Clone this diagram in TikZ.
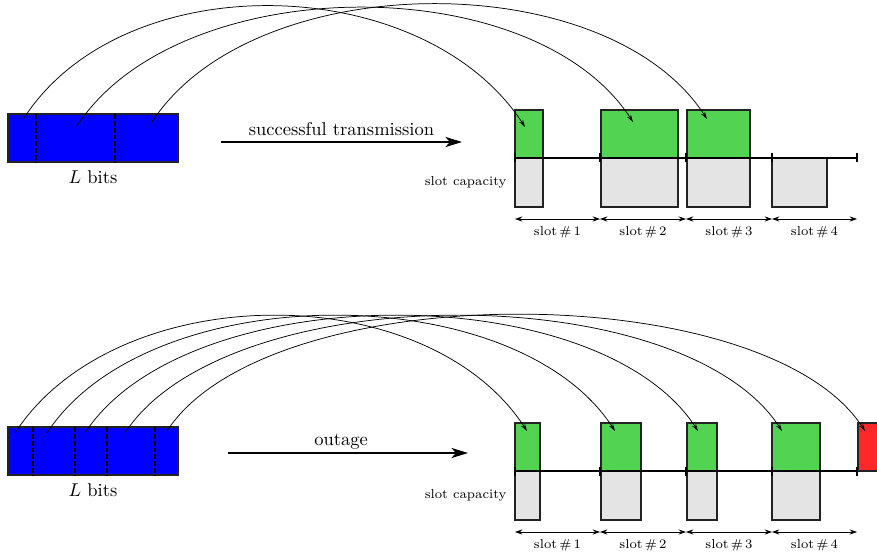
\documentclass[tikz,border=0pt]{standalone}
\usetikzlibrary{arrows.meta,fit}
\definecolor{slotgreen}{RGB}{82,212,82}
\definecolor{slotgray}{RGB}{228,228,228}
\definecolor{lostred}{RGB}{255,40,40}
\definecolor{edge}{RGB}{35,35,35}
\begin{document}
\begin{tikzpicture}[x=0.54pt,y=-0.54pt,
  cell/.style={draw=edge,line width=0.65pt,inner sep=0pt},
  bitbar/.style={cell,fill=blue},
  okcell/.style={cell,fill=slotgreen},
  capcell/.style={cell,fill=slotgray},
  lostcell/.style={cell,fill=lostred},
  divider/.style={line width=0.6pt,dash pattern=on 2.6pt off 1.1pt},
  axisline/.style={line width=0.65pt},
  tickmark/.style={line width=0.9pt},
  hop/.style={-{Stealth[length=4pt,width=2.4pt]},line width=0.4pt},
  bigarrow/.style={-{Stealth[length=9pt,width=5.5pt,inset=2.5pt]},line width=0.6pt},
  span/.style={{Stealth[length=4pt,width=2.8pt]}-{Stealth[length=4pt,width=2.8pt]},line width=0.45pt},
  small/.style={font=\scriptsize},
]
\useasboundingbox (0,0) rectangle (877,556);
\clip (0,0) rectangle (877,556);

% ---------------- upper panel: successful transmission ----------------
\node[bitbar,fit={(8,114) (178,162)}] (barA) {};
\draw[divider] (36,114) -- (36,162);
\draw[divider] (115,114) -- (115,162);
\node[below=1pt] (lbA) at (barA.south) {$L$ bits};

\coordinate (arrAs) at (221,142);
\coordinate (arrAe) at (462,142);
\draw[bigarrow] (arrAs) -- (arrAe) node[midway,above=0pt] (txA) {successful transmission};

% capacity of each slot (below the axis) and data placed in it (above)
\node[capcell,fit={(515,158) (543,207)}] (cA1) {};
\node[capcell,fit={(601,158) (678,207)}] (cA2) {};
\node[capcell,fit={(687,158) (750,207)}] (cA3) {};
\node[capcell,fit={(772,158) (827,207)}] (cA4) {};
\node[okcell,fit={(515,110) (543,158)}] (gA1) {};
\node[okcell,fit={(601,110) (678,158)}] (gA2) {};
\node[okcell,fit={(687,110) (750,158)}] (gA3) {};

\draw[axisline] (515,158) -- (857,158);
\foreach \x in {515,600,686,772,857}
  \draw[tickmark] (\x,153.5) -- (\x,162.5);
\node[small,anchor=east] (capA) at (513,182) {slot capacity};

\foreach \a/\b/\n in {515/600/1,600/686/2,686/772/3,772/857/4}{
  \coordinate (sA\n l) at (\a,219);
  \coordinate (sA\n r) at (\b,219);
  \draw[span] (sA\n l) -- (sA\n r);
  \node[small] (slA\n) at ({(\a+\b)/2},232) {slot\,\#\,\n};
}

% bits of the packet carried into the slots
\coordinate (fA1) at (24,118);  \coordinate (tA1) at (525,127);
\coordinate (fA2) at (77,126);  \coordinate (tA2) at (633,122);
\coordinate (fA3) at (152,122); \coordinate (tA3) at (707,119);
\foreach \n in {1,2,3}
  \draw[hop] (fA\n) .. controls +(-57:185) and +(-123:185) .. (tA\n);

% ---------------- lower panel: outage ----------------
\node[bitbar,fit={(8,427) (178,475)}] (barB) {};
\foreach \x in {33,75,107,155}
  \draw[divider] (\x,427) -- (\x,475);
\node[below=1pt] (lbB) at (barB.south) {$L$ bits};

\coordinate (arrBs) at (228,453);
\coordinate (arrBe) at (468,453);
\draw[bigarrow] (arrBs) -- (arrBe);
\node (txB) at (341,442) {outage};

\node[capcell,fit={(515,471) (540,520)}] (cB1) {};
\node[capcell,fit={(601,471) (641,520)}] (cB2) {};
\node[capcell,fit={(687,471) (717,520)}] (cB3) {};
\node[capcell,fit={(772,471) (820,520)}] (cB4) {};
\node[okcell,fit={(515,423) (540,471)}] (gB1) {};
\node[okcell,fit={(601,423) (641,471)}] (gB2) {};
\node[okcell,fit={(687,423) (717,471)}] (gB3) {};
\node[okcell,fit={(772,423) (820,471)}] (gB4) {};
\node[lostcell,fit={(858,423) (900,471)}] (rB5) {};

\draw[axisline] (515,471) -- (857,471);
\foreach \x in {515,600,686,772,857}
  \draw[tickmark] (\x,466.5) -- (\x,475.5);
\node[small,anchor=east] (capB) at (513,495) {slot capacity};

\foreach \a/\b/\n in {515/600/1,600/686/2,686/772/3,772/857/4}{
  \coordinate (sB\n l) at (\a,532);
  \coordinate (sB\n r) at (\b,532);
  \draw[span] (sB\n l) -- (sB\n r);
  \node[small] (slB\n) at ({(\a+\b)/2},545) {slot\,\#\,\n};
}

\coordinate (fB1) at (15,433);  \coordinate (tB1) at (527,431);
\coordinate (fB2) at (47,433);  \coordinate (tB2) at (615,431);
\coordinate (fB3) at (85,433);  \coordinate (tB3) at (698,431);
\coordinate (fB4) at (125,433); \coordinate (tB4) at (782,431);
\coordinate (fB5) at (167,431); \coordinate (tB5) at (865,431);
\foreach \n in {1,...,5}
  \draw[hop] (fB\n) .. controls +(-57:185) and +(-123:185) .. (tB\n);
\end{tikzpicture}
\end{document}
